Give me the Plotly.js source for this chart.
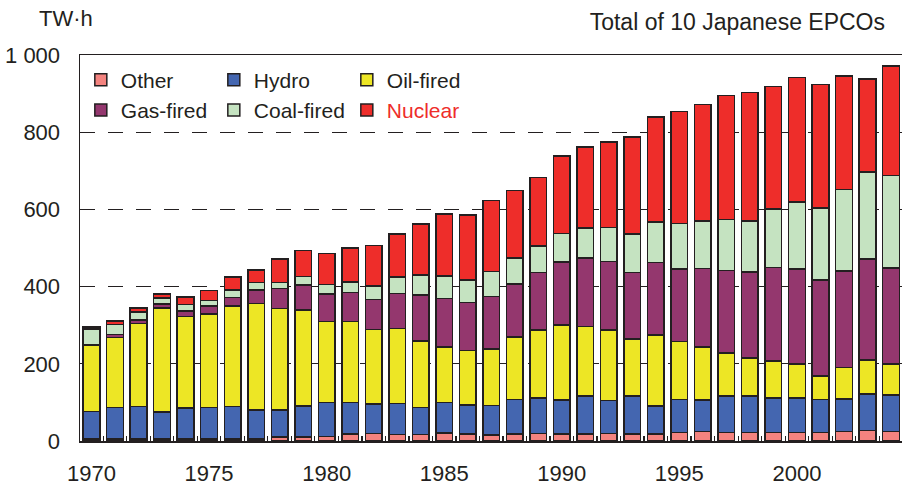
<!DOCTYPE html>
<html>
<head>
<meta charset="utf-8">
<script src="https://cdn.plot.ly/plotly-3.0.1.min.js"></script>
<style>html,body{margin:0;padding:0;background:#fff;}#chart{width:902px;height:487px;}</style>
</head>
<body>
<div id="chart"></div>
<script>
const years = [1970,1971,1972,1973,1974,1975,1976,1977,1978,1979,1980,1981,1982,1983,1984,1985,1986,1987,1988,1989,1990,1991,1992,1993,1994,1995,1996,1997,1998,1999,2000,2001,2002,2003,2004];
const other   = [5,5,5,5,5,5,5,5,10,10,12,18,20,17,17,21,18,16,18,20,18,18,20,18,18,22,24,22,22,22,22,22,24,27,24];
const hydro   = [71,82,85,70,81,82,84,75,70,81,88,82,76,80,70,79,75,76,90,91,88,98,85,98,73,85,82,95,95,90,90,86,85,95,95];
const oil     = [171,181,214,269,236,242,261,276,263,248,209,209,193,194,172,144,141,147,161,177,194,181,183,148,184,151,138,111,98,95,87,60,81,88,80];
const gas     = [2,8,9,11,15,21,22,35,52,65,72,76,78,91,119,125,125,135,138,149,164,177,177,173,187,188,203,214,223,242,246,249,250,262,249];
const coal    = [41,26,21,15,16,14,19,19,16,22,25,27,35,43,52,59,58,65,67,68,74,78,88,99,106,118,123,132,132,152,174,187,212,225,240];
const nuclear = [5,9,10,11,20,26,34,33,60,67,80,88,104,111,132,160,168,184,175,178,201,210,222,251,271,289,302,321,333,317,323,320,294,241,283];

const seriesNames  = ['Other','Hydro','Oil-fired','Gas-fired','Coal-fired','<span style="color:#ee2d2a">Nuclear</span>'];
const seriesValues = [other, hydro, oil, gas, coal, nuclear];
const seriesColors = ['#f4837f','#4466b0','#ede625','#94376e','#c5e3c1','#ee2d2a'];
const seriesLegend = ['legend','legend','legend','legend2','legend2','legend2'];

const yTickVals = [0,200,400,600,800,1000];
const yTickText = ['0','200','400','600','800','1 000'];

const ink = '#231f20';
const fontFam = '"Liberation Sans", Arial, sans-serif';

const data = seriesNames.map((n,i) => ({
  type: 'bar',
  name: n,
  x: years,
  y: seriesValues[i],
  legend: seriesLegend[i],
  marker: {color: seriesColors[i], line: {color: ink, width: 1.5}},
  hoverinfo: 'x+y+name'
}));

const legendCommon = {
  orientation: 'h', xanchor: 'left', yanchor: 'top',
  bgcolor: 'rgba(0,0,0,0)', borderwidth: 0,
  font: {family: fontFam, size: 21, color: ink},
  traceorder: 'normal', entrywidth: 88, entrywidthmode: 'pixels',
  itemwidth: 30
};

const layout = {
  width: 902, height: 487,
  margin: {l: 80, r: 0, t: 55, b: 46},
  paper_bgcolor: '#fff', plot_bgcolor: '#fff',
  font: {family: fontFam, size: 22, color: ink},
  barmode: 'stack', bargap: 0.29,
  showlegend: true,
  legend:  Object.assign({x: 0.001, y: 0.988}, legendCommon),
  legend2: Object.assign({x: 0.001, y: 0.910}, legendCommon),
  title: {
    text: 'Total of 10 Japanese EPCOs',
    xref: 'container', yref: 'container',
    x: 885/902, xanchor: 'right', y: 1 - 22/487, yanchor: 'middle',
    font: {family: fontFam, size: 23, color: ink}
  },
  xaxis: {
    type: 'linear', range: [1969.51, 2004.47],
    tickmode: 'linear', tick0: 1970, dtick: 5,
    ticks: '', showgrid: false, zeroline: false,
    showline: true, linecolor: ink, linewidth: 1.5, mirror: true,
    ticklabelstandoff: 12,
    tickfont: {family: fontFam, size: 22, color: ink},
    minor: {tick0: 1969.5, dtick: 1, ticks: 'inside', ticklen: 5, tickwidth: 1.2, tickcolor: ink, showgrid: false}
  },
  yaxis: {
    range: [0, 1000], tickmode: 'array', tickvals: yTickVals, ticktext: yTickText,
    ticks: '', showgrid: true, gridcolor: ink, gridwidth: 1.2, griddash: '15px,13px',
    zeroline: false, showline: true, linecolor: ink, linewidth: 1.5,
    ticklabelstandoff: 14,
    tickfont: {family: fontFam, size: 22, color: ink}
  },
  annotations: [{
    text: 'TW·h', xref: 'paper', yref: 'paper', showarrow: false,
    x: (37-80)/822, xanchor: 'left', y: (441-18)/386, yanchor: 'middle',
    font: {family: fontFam, size: 22, color: ink}
  }]
};

Plotly.newPlot('chart', data, layout, {displayModeBar: false, staticPlot: true});
</script>
</body>
</html>
